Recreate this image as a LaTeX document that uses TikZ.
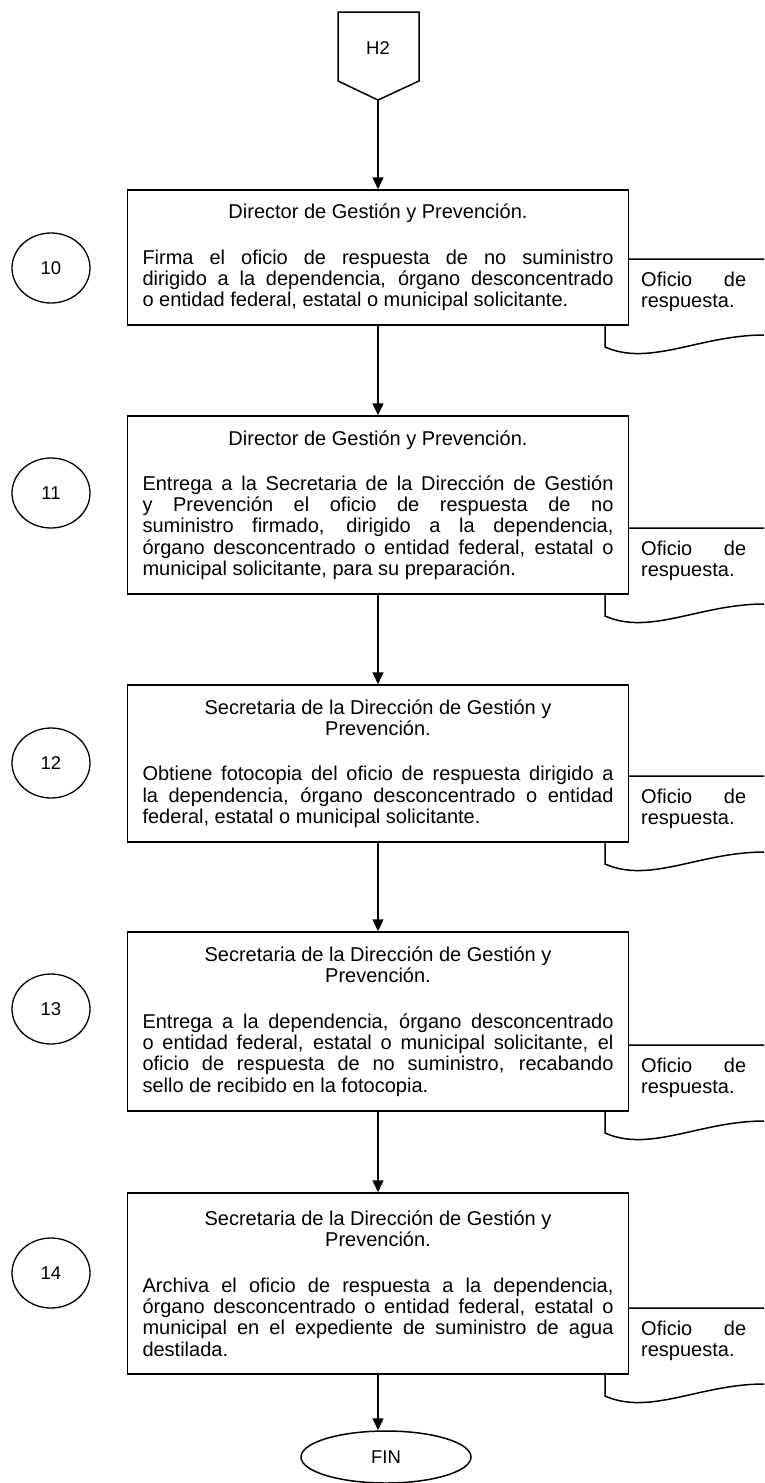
\documentclass[tikz,border=0pt]{standalone}
\usepackage{fontspec}
\setmainfont{Liberation Sans}
\usetikzlibrary{arrows.meta,shapes.geometric}

\newcommand{\pasotexto}[2]{\setlength{\parindent}{0pt}{\centering #1\par}\vspace{24pt}#2}

\begin{document}
\begin{tikzpicture}[x=1pt,y=-1pt,
    every node/.style={font=\fontsize{20pt}{21.3pt}\selectfont},
    paso/.style={draw, fill=white, line width=1.5pt, text width=471pt,
      align=justify, inner xsep=0pt, inner ysep=0pt, minimum width=501pt,
      minimum height=#1},
    numero/.style={draw, ellipse, line width=1.3pt, minimum width=78pt,
      minimum height=70pt, inner sep=0pt, font=\fontsize{18.5pt}{21pt}\selectfont},
    flecha/.style={line width=1.5pt, -{Triangle[length=12pt,width=11pt]}},
    hoja/.style={line width=1.5pt}]
  \useasboundingbox (0,0) rectangle (764,1483);

  % Connector
  \draw[line width=1.5pt] (338,12) -- (419,12) -- (419,81) -- (378,100)
    -- (338,81) -- cycle;
  \node[font=\fontsize{18.5pt}{21pt}\selectfont] (h2) at (378,48) {H2};
  \coordinate (h2punta) at (378,100);

  % Documents (behind the boxes)
  \foreach \n/\b in {10/325, 11/594, 12/842, 13/1111, 14/1374}{
    \draw[hoja] (764,\b-66) -- (605,\b-66) -- (605,\b+22)
      .. controls (650,\b+42) and (700,\b+10) .. (764,\b+10);
    \node[anchor=west, text width=105pt, align=left, inner sep=0pt]
      (oficio\n) at (641,\b-33) {Oficio \hfill de\\respuesta.};
  }

  % Boxes
  \node[paso=135pt] (paso10) at (378,257.5) {\pasotexto{Director de Gestión y
      Prevención.}{Firma el oficio de respuesta de no suministro\linebreak
      dirigido a la dependencia, órgano desconcentrado\linebreak o entidad
      federal, estatal o municipal solicitante.}};
  \node[paso=178pt] (paso11) at (378,505) {\pasotexto{Director de Gestión y
      Prevención.}{Entrega a la Secretaria de la Dirección de
      Gestión\linebreak y Prevención el oficio de respuesta de no\linebreak
      suministro firmado, dirigido a la dependencia,\linebreak órgano
      desconcentrado o entidad federal, estatal o\linebreak municipal
      solicitante, para su preparación.}};
  \node[paso=157pt] (paso12) at (378,763.5) {\pasotexto{Secretaria de la
      Dirección de Gestión y\\Prevención.}{Obtiene fotocopia del oficio de
      respuesta dirigido a\linebreak la dependencia, órgano desconcentrado o
      entidad\linebreak federal, estatal o municipal solicitante.}};
  \node[paso=179pt] (paso13) at (378,1021.5) {\pasotexto{Secretaria de la
      Dirección de Gestión y\\Prevención.}{Entrega a la dependencia, órgano
      desconcentrado\linebreak o entidad federal, estatal o municipal
      solicitante, el\linebreak oficio de respuesta de no suministro,
      recabando\linebreak sello de recibido en la fotocopia.}};
  \node[paso=181pt] (paso14) at (378,1283.5) {\pasotexto{Secretaria de la
      Dirección de Gestión y\\Prevención.}{Archiva el oficio de respuesta a
      la dependencia,\linebreak órgano desconcentrado o entidad federal,
      estatal o\linebreak municipal en el expediente de suministro de
      agua\linebreak destilada.}};

  % Numbers
  \node[numero] (n10) at (51,268) {10};
  \node[numero] (n11) at (51,493) {11};
  \node[numero] (n12) at (51,763) {12};
  \node[numero] (n13) at (51,1009) {13};
  \node[numero] (n14) at (51,1273) {14};

  \node[draw, ellipse, line width=1.5pt, minimum width=170pt,
    minimum height=52pt, font=\fontsize{18.5pt}{21pt}\selectfont]
    (fin) at (386,1457) {FIN};

  % Arcs
  \draw[flecha] (h2punta) -- (paso10);
  \draw[flecha] (paso10) -- (paso11);
  \draw[flecha] (paso11) -- (paso12);
  \draw[flecha] (paso12) -- (paso13);
  \draw[flecha] (paso13) -- (paso14);
  \draw[flecha] (paso14.south) -- (paso14.south |- fin.north);
\end{tikzpicture}
\end{document}
